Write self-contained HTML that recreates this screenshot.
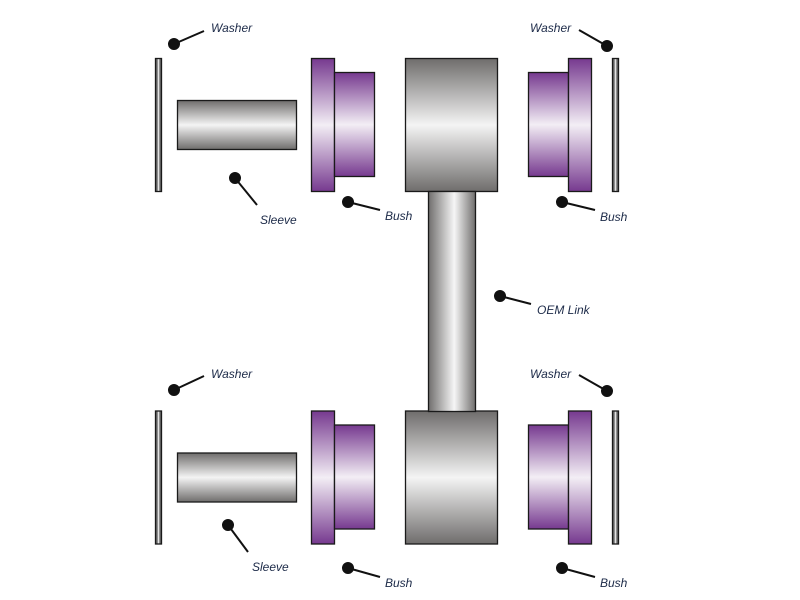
<!DOCTYPE html>
<html><head><meta charset="utf-8"><style>
html,body{margin:0;padding:0;background:#fff;}
svg{display:block}
text{font-family:"Liberation Sans",sans-serif;font-style:italic;font-size:12px;fill:#1c2a48}
</style></head><body>
<svg width="800" height="600" viewBox="0 0 800 600" xmlns="http://www.w3.org/2000/svg">
<defs>
<linearGradient id="gv" x1="0" y1="0" x2="0" y2="1">
<stop offset="0" stop-color="#6f6d6c"/><stop offset="0.5" stop-color="#f4f4f4"/><stop offset="1" stop-color="#6f6d6c"/>
</linearGradient>
<linearGradient id="gh" x1="0" y1="0" x2="1" y2="0">
<stop offset="0" stop-color="#706e6d"/><stop offset="0.55" stop-color="#f6f6f6"/><stop offset="1" stop-color="#706e6d"/>
</linearGradient>
<linearGradient id="gw" x1="0" y1="0" x2="1" y2="0">
<stop offset="0" stop-color="#555"/><stop offset="0.3" stop-color="#777"/><stop offset="0.5" stop-color="#fff"/><stop offset="0.7" stop-color="#777"/><stop offset="1" stop-color="#555"/>
</linearGradient>
<linearGradient id="pv" x1="0" y1="0" x2="0" y2="1">
<stop offset="0" stop-color="#76398f"/><stop offset="0.5" stop-color="#f3eef5"/><stop offset="1" stop-color="#76398f"/>
</linearGradient>
</defs>
<g stroke="#1a1a1a" stroke-width="1.3">
<g id="asm">
<rect x="155.5" y="58.5" width="6" height="133" fill="url(#gw)"/>
<rect x="177.5" y="100.5" width="119" height="49" fill="url(#gv)"/>
<rect x="311.5" y="58.5" width="23" height="133" fill="url(#pv)"/>
<rect x="334.5" y="72.5" width="40" height="104" fill="url(#pv)"/>
<rect x="405.5" y="58.5" width="92" height="133" fill="url(#gv)"/>
<rect x="528.5" y="72.5" width="40" height="104" fill="url(#pv)"/>
<rect x="568.5" y="58.5" width="23" height="133" fill="url(#pv)"/>
<rect x="612.5" y="58.5" width="6" height="133" fill="url(#gw)"/>
</g>
<use href="#asm" transform="translate(0,352.5)"/>
<rect x="428.5" y="191.5" width="47" height="220" fill="url(#gh)"/>
</g>
<g stroke="#111" stroke-width="2" fill="#111">
<line x1="174" y1="44" x2="204" y2="31"/><circle cx="174" cy="44" r="5"/>
<line x1="607" y1="46" x2="579" y2="30"/><circle cx="607" cy="46" r="5"/>
<line x1="235" y1="178" x2="257" y2="205"/><circle cx="235" cy="178" r="5"/>
<line x1="348" y1="202" x2="380" y2="210"/><circle cx="348" cy="202" r="5"/>
<line x1="562" y1="202" x2="595" y2="210"/><circle cx="562" cy="202" r="5"/>
<line x1="500" y1="296" x2="531" y2="304"/><circle cx="500" cy="296" r="5"/>
<line x1="174" y1="390" x2="204" y2="376"/><circle cx="174" cy="390" r="5"/>
<line x1="607" y1="391" x2="579" y2="375"/><circle cx="607" cy="391" r="5"/>
<line x1="228" y1="525" x2="248" y2="552"/><circle cx="228" cy="525" r="5"/>
<line x1="348" y1="568" x2="380" y2="577"/><circle cx="348" cy="568" r="5"/>
<line x1="562" y1="568" x2="595" y2="577"/><circle cx="562" cy="568" r="5"/>
</g>
<text x="211" y="32">Washer</text>
<text x="530" y="32">Washer</text>
<text x="260" y="224">Sleeve</text>
<text x="385" y="220">Bush</text>
<text x="600" y="221">Bush</text>
<text x="537" y="314">OEM Link</text>
<text x="211" y="378">Washer</text>
<text x="530" y="378">Washer</text>
<text x="252" y="571">Sleeve</text>
<text x="385" y="587">Bush</text>
<text x="600" y="587">Bush</text>
</svg>
</body></html>
